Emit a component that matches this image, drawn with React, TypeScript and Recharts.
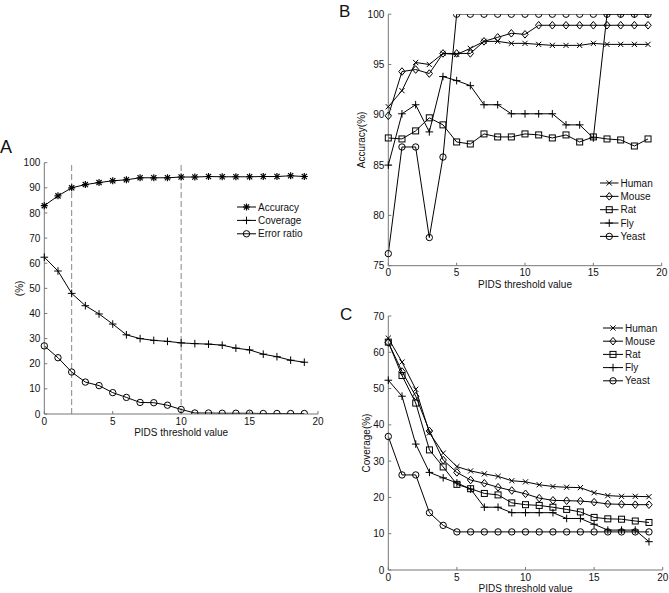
import React from 'react';
import { LineChart, Line, XAxis, YAxis, ReferenceLine, Legend, Label } from 'recharts';

const FONT = '"Liberation Sans", Arial, Helvetica, sans-serif';

// ---------- shared ----------
const thresholds = [0, 1, 2, 3, 4, 5, 6, 7, 8, 9, 10, 11, 12, 13, 14, 15, 16, 17, 18, 19];
const xTicks = [0, 5, 10, 15, 20];

// ---------- Panel A ----------
const accuracyA = [82.9, 86.8, 90.0, 91.3, 92.1, 92.8, 93.2, 94.0, 94.0, 94.0, 94.3, 94.3, 94.5, 94.4, 94.4, 94.4, 94.5, 94.5, 94.8, 94.5];
const coverageA = [62.4, 56.9, 48.0, 43.1, 39.8, 35.8, 31.5, 30.0, 29.3, 28.9, 28.3, 28.0, 27.8, 27.4, 26.2, 25.5, 23.8, 22.8, 21.4, 20.6];
const errorRatioA = [27.1, 22.4, 16.7, 12.7, 11.3, 8.5, 6.6, 4.6, 4.5, 3.5, 1.8, 0.4, 0.4, 0.3, 0.3, 0.3, 0.2, 0.2, 0.2, 0.2];
const yTicksA = [0, 10, 20, 30, 40, 50, 60, 70, 80, 90, 100];
const cutoffsA = [2, 10];

// ---------- Panel B (accuracy by species) ----------
const accHuman = [90.8, 92.4, 95.2, 95.0, 96.1, 96.0, 96.6, 97.3, 97.3, 97.1, 97.1, 97.0, 96.9, 96.9, 96.9, 97.1, 97.0, 97.0, 97.0, 97.0];
const accMouse = [89.9, 94.3, 94.5, 94.1, 96.1, 96.1, 96.1, 97.3, 97.7, 98.1, 98.0, 98.9, 98.9, 98.9, 98.9, 98.9, 98.9, 98.9, 98.9, 98.9];
const accRat = [87.7, 87.6, 88.4, 89.7, 89.0, 87.3, 87.1, 88.1, 87.8, 87.8, 88.1, 88.0, 87.7, 88.0, 87.3, 87.8, 87.6, 87.5, 86.9, 87.6];
const accFly = [85.0, 90.1, 91.0, 88.3, 93.8, 93.4, 92.9, 91.0, 91.0, 90.1, 90.1, 90.1, 90.1, 89.0, 89.0, 87.7, 100, 100, 100, 100];
const accYeast = [76.2, 86.8, 86.8, 77.8, 85.8, 100, 100, 100, 100, 100, 100, 100, 100, 100, 100, 100, 100, 100, 100, 100];
const yTicksB = [75, 80, 85, 90, 95, 100];

// ---------- Panel C (coverage by species) ----------
const covHuman = [63.9, 57.3, 49.8, 37.8, 32.2, 28.5, 27.3, 26.5, 25.8, 24.6, 24.3, 23.5, 23.0, 22.8, 22.7, 21.3, 20.5, 20.3, 20.3, 20.2];
const covMouse = [62.7, 54.7, 47.9, 38.3, 30.3, 26.9, 24.8, 23.9, 22.8, 21.9, 21.0, 19.8, 19.2, 19.1, 19.0, 18.7, 18.2, 18.1, 18.0, 18.0];
const covRat = [62.8, 53.6, 46.0, 33.1, 28.4, 23.6, 22.4, 21.1, 20.7, 18.5, 18.0, 17.8, 17.3, 16.7, 16.0, 14.5, 14.1, 14.0, 13.5, 13.1];
const covFly = [52.3, 47.9, 34.7, 26.9, 25.4, 24.0, 22.3, 17.3, 17.3, 15.8, 15.8, 15.8, 15.8, 14.2, 14.2, 12.6, 11.0, 11.0, 11.0, 7.8];
const covYeast = [36.8, 26.2, 26.2, 15.8, 12.3, 10.5, 10.5, 10.5, 10.5, 10.5, 10.5, 10.5, 10.5, 10.5, 10.5, 10.5, 10.5, 10.5, 10.5, 10.5];
const yTicksC = [0, 10, 20, 30, 40, 50, 60, 70];

const seriesA = ['Accuracy', 'Coverage', 'Error ratio'];
const species = ['Human', 'Mouse', 'Rat', 'Fly', 'Yeast'];

const dataA = thresholds.map((x, i) => ({ x, Accuracy: accuracyA[i], Coverage: coverageA[i], 'Error ratio': errorRatioA[i] }));
const dataB = thresholds.map((x, i) => ({ x, Human: accHuman[i], Mouse: accMouse[i], Rat: accRat[i], Fly: accFly[i], Yeast: accYeast[i] }));
const dataC = thresholds.map((x, i) => ({ x, Human: covHuman[i], Mouse: covMouse[i], Rat: covRat[i], Fly: covFly[i], Yeast: covYeast[i] }));

// ---------- markers ----------
type Kind = 'star' | 'plus' | 'circle' | 'square' | 'diamond' | 'cross';
const markerA: Record<string, Kind> = { Accuracy: 'star', Coverage: 'plus', 'Error ratio': 'circle' };
const markerSp: Record<string, Kind> = { Human: 'cross', Mouse: 'diamond', Rat: 'square', Fly: 'plus', Yeast: 'circle' };

function Marker({ kind, cx, cy }: { kind: Kind; cx: number; cy: number }) {
  const p = { stroke: '#000', strokeWidth: 1, fill: 'none' };
  switch (kind) {
    case 'star':
      return (
        <g {...p} strokeWidth={1.2}>
          <line x1={cx - 3.5} y1={cy} x2={cx + 3.5} y2={cy} />
          <line x1={cx} y1={cy - 3.5} x2={cx} y2={cy + 3.5} />
          <line x1={cx - 2.6} y1={cy - 2.6} x2={cx + 2.6} y2={cy + 2.6} />
          <line x1={cx - 2.6} y1={cy + 2.6} x2={cx + 2.6} y2={cy - 2.6} />
        </g>
      );
    case 'plus':
      return (
        <g {...p}>
          <line x1={cx - 3.8} y1={cy} x2={cx + 3.8} y2={cy} />
          <line x1={cx} y1={cy - 3.8} x2={cx} y2={cy + 3.8} />
        </g>
      );
    case 'cross':
      return (
        <g {...p}>
          <line x1={cx - 2.6} y1={cy - 2.6} x2={cx + 2.6} y2={cy + 2.6} />
          <line x1={cx - 2.6} y1={cy + 2.6} x2={cx + 2.6} y2={cy - 2.6} />
        </g>
      );
    case 'circle':
      return <circle cx={cx} cy={cy} r={3.2} {...p} />;
    case 'square':
      return <rect x={cx - 3} y={cy - 3} width={6} height={6} {...p} />;
    case 'diamond':
      return <path d={`M${cx},${cy - 3.8}L${cx + 3.2},${cy}L${cx},${cy + 3.8}L${cx - 3.2},${cy}Z`} {...p} />;
  }
  return null;
}

const dotFn = (kind: Kind, name: string) => (props: any) => {
  const { cx, cy, index } = props;
  if (cx == null || cy == null) return <g key={`${name}-${index}`} />;
  return (
    <g key={`${name}-${index}`}>
      <Marker kind={kind} cx={cx} cy={cy} />
    </g>
  );
};

// ---------- legend ----------
const makeLegend = (names: string[], kinds: Record<string, Kind>, lineLen: number, step: number, w: number, h: number) => () => (
  <svg width={w} height={h} style={{ display: 'block', overflow: 'visible' }}>
    {names.map((n, i) => {
      const y = 7 + i * step;
      return (
        <g key={n}>
          <line x1={2} y1={y} x2={2 + lineLen} y2={y} stroke="#000" strokeWidth={1} />
          <Marker kind={kinds[n]} cx={2 + lineLen / 2} cy={y} />
          <text x={lineLen + 4} y={y + 3.6} fontSize={10} fontFamily={FONT} fill="#111">{n}</text>
        </g>
      );
    })}
  </svg>
);

// ---------- axis labels ----------
const yLabel = (text: string, cx: number) => (props: any) => {
  const vb = props.viewBox || {};
  const cy = (vb.y ?? 0) + (vb.height ?? 0) / 2;
  const bx = cx + 3.6;
  return (
    <text x={bx} y={cy} transform={`rotate(-90 ${bx} ${cy})`} textAnchor="middle" fontSize={10} fontFamily={FONT} fill="#111">
      {text}
    </text>
  );
};
const xLabel = (text: string) => (props: any) => {
  const vb = props.viewBox || {};
  const cx = (vb.x ?? 0) + (vb.width ?? 0) / 2;
  const y = (vb.y ?? 0) + 22.2;
  return (
    <text x={cx} y={y} textAnchor="middle" fontSize={10} fontFamily={FONT} fill="#111">
      {text}
    </text>
  );
};

const tickStyle = { fill: '#111', fontSize: 10, fontFamily: FONT };
const AXIS = '#777';

function Panel({
  left, top, width, height, margin, yWidth, xHeight, data, names, kinds, yDomain, yTicks, yTitle, yTitleX, legend, refs,
}: any) {
  return (
    <div style={{ position: 'absolute', left, top, width, height }}>
      <LineChart width={width} height={height} data={data} margin={margin}>
        <XAxis
          dataKey="x"
          type="number"
          domain={[0, 20]}
          ticks={xTicks}
          interval={0}
          height={xHeight}
          stroke={AXIS}
          tickSize={-3}
          tickMargin={6.5}
          tick={tickStyle}
          label={<Label content={xLabel('PIDS threshold value')} />}
        />
        <YAxis
          type="number"
          domain={yDomain}
          ticks={yTicks}
          interval={0}
          width={yWidth}
          stroke={AXIS}
          tickSize={-3}
          tickMargin={7}
          tick={tickStyle}
          allowDataOverflow
          label={<Label content={yLabel(yTitle, yTitleX)} />}
        />
        {(refs || []).map((r: number) => (
          <ReferenceLine key={r} x={r} stroke="#888" strokeWidth={1} strokeDasharray="6 3" />
        ))}
        {names.map((n: string) => (
          <Line
            key={n}
            type="linear"
            dataKey={n}
            stroke="#000"
            strokeWidth={1}
            dot={dotFn(kinds[n], n)}
            activeDot={false}
            isAnimationActive={false}
          />
        ))}
        <Legend
          layout="vertical"
          align="center"
          verticalAlign="middle"
          wrapperStyle={{ left: legend.left, top: legend.top, width: legend.w, height: legend.h, margin: 0, padding: 0 }}
          content={makeLegend(names, kinds, legend.lineLen, legend.step, legend.w, legend.h)}
        />
      </LineChart>
    </div>
  );
}

export default function App() {
  return (
    <div style={{ position: 'absolute', left: 0, top: 0, width: 669, height: 593, background: '#fff', overflow: 'hidden', fontFamily: FONT }}>
      <Panel
        left={0} top={140} width={340} height={310}
        margin={{ top: 22.7, right: 22, bottom: 6, left: 0 }}
        yWidth={44.3} xHeight={30}
        data={dataA} names={seriesA} kinds={markerA}
        yDomain={[0, 100]} yTicks={yTicksA}
        yTitle="(%)" yTitleX={19}
        refs={cutoffsA}
        legend={{ left: 235, top: 59.6, w: 90, h: 40, lineLen: 19, step: 13.4 }}
      />
      <Panel
        left={340} top={0} width={329} height={300}
        margin={{ top: 14.2, right: 7.3, bottom: 4.3, left: 0 }}
        yWidth={48.3} xHeight={30}
        data={dataB} names={species} kinds={markerSp}
        yDomain={[75, 100]} yTicks={yTicksB}
        yTitle="Accuracy(%)" yTitleX={21}
        legend={{ left: 258, top: 176.3, w: 70, h: 66, lineLen: 18.5, step: 13.35 }}
      />
      <Panel
        left={340} top={300} width={329} height={293}
        margin={{ top: 16, right: 6.3, bottom: 0, left: 0 }}
        yWidth={48.3} xHeight={23}
        data={dataC} names={species} kinds={markerSp}
        yDomain={[0, 70]} yTicks={yTicksC}
        yTitle="Coverage(%)" yTitleX={26.7}
        legend={{ left: 261.3, top: 20.7, w: 70, h: 66, lineLen: 20, step: 13.2 }}
      />
      <svg width={669} height={593} style={{ position: 'absolute', left: 0, top: 0, pointerEvents: 'none' }}>
        <text x={0} y={153.3} fontSize={18} fontFamily={FONT} fill="#111">A</text>
        <text x={339} y={16.5} fontSize={17} fontFamily={FONT} fill="#111">B</text>
        <text x={340} y={319.5} fontSize={17} fontFamily={FONT} fill="#111">C</text>
      </svg>
    </div>
  );
}
